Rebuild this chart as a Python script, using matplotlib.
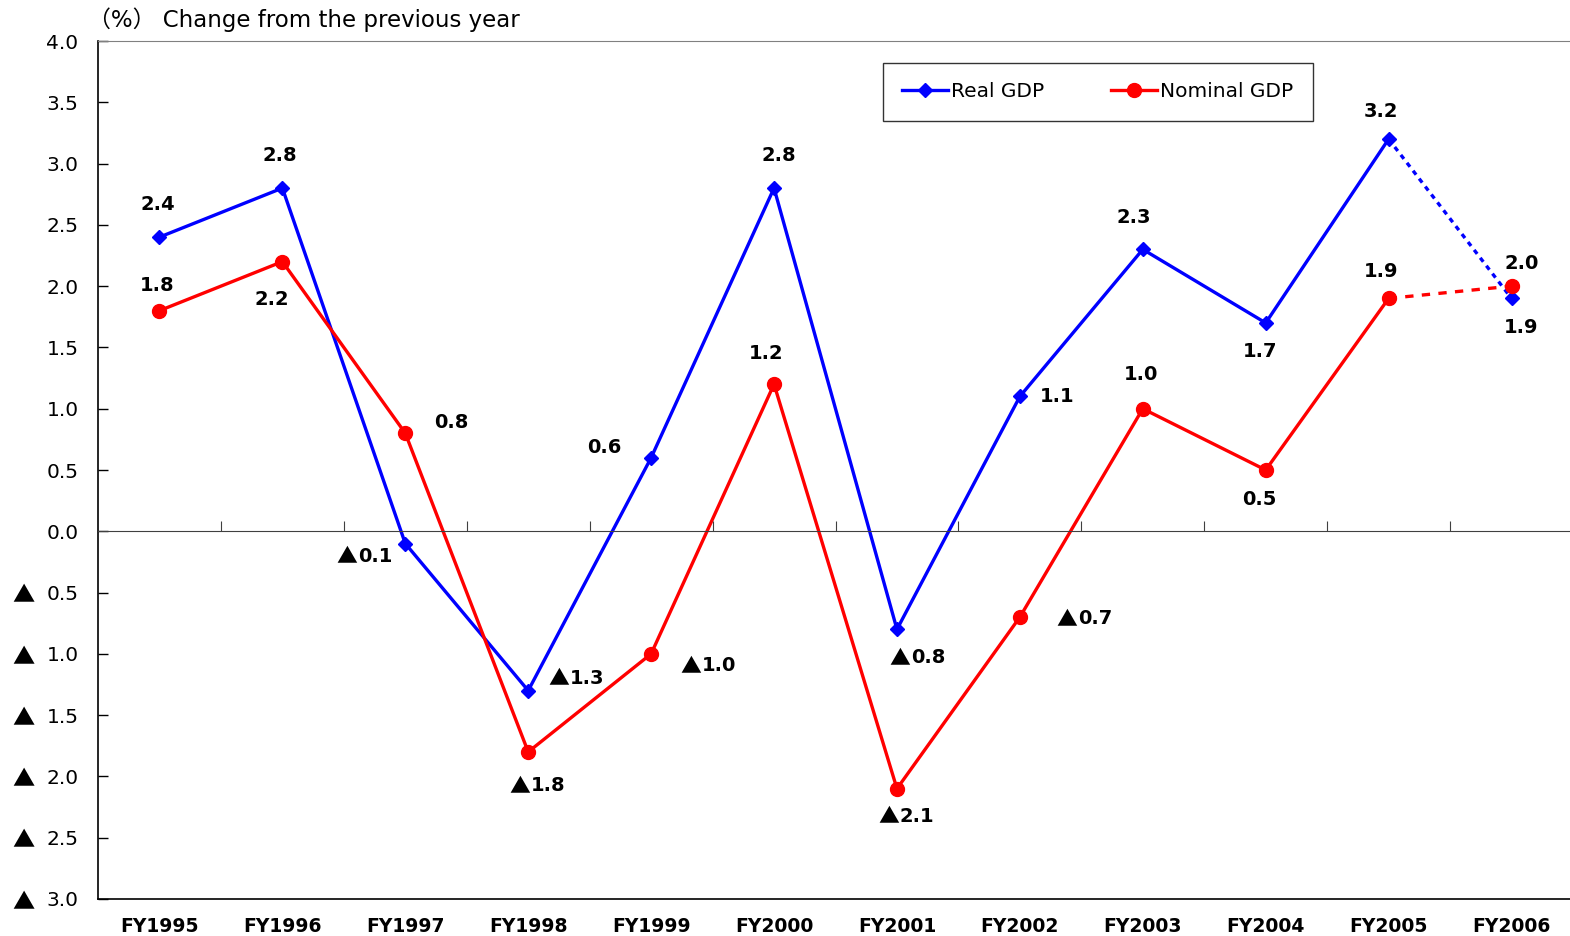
import numpy as np
import matplotlib
matplotlib.use("Agg")
import matplotlib.pyplot as plt
import matplotlib.transforms as mtransforms

plt.rcParams['font.family'] = ['DejaVu Sans', 'Noto Sans CJK JP']

years = ["FY1995", "FY1996", "FY1997", "FY1998", "FY1999", "FY2000",
         "FY2001", "FY2002", "FY2003", "FY2004", "FY2005", "FY2006"]
real_gdp = [2.4, 2.8, -0.1, -1.3, 0.6, 2.8, -0.8, 1.1, 2.3, 1.7, 3.2, 1.9]
nominal_gdp = [1.8, 2.2, 0.8, -1.8, -1.0, 1.2, -2.1, -0.7, 1.0, 0.5, 1.9, 2.0]

# label offsets in pixels (dx, dy) relative to each point
real_off = [(-2, 33), (-3, 33), (-43, -11), (46, 14), (-47, 10), (5, 33),
            (18, -27), (37, 0), (-9, 32), (-6, -29), (-8, 28), (10, -29)]
nom_off = [(-2, 25), (-11, -38), (46, 11), (7, -32), (55, -10), (-8, 31),
           (7, -26), (62, 0), (-2, 34), (-6, -29), (-8, 27), (10, 23)]

yticks = [4.0, 3.5, 3.0, 2.5, 2.0, 1.5, 1.0, 0.5, 0.0,
          -0.5, -1.0, -1.5, -2.0, -2.5, -3.0]

TRI_FONT = ['Noto Sans CJK JP', 'DejaVu Sans']


def put_label(ax, xi, v, dx, dy):
    if v >= 0:
        ax.annotate("%.1f" % v, (xi, v), xytext=(dx, dy), textcoords="offset pixels",
                    ha="center", va="center", fontsize=14, fontweight="bold")
    else:
        split = dx - 6
        base = dy - 7
        ax.annotate("▲", (xi, v), xytext=(split + 1, base - 1), textcoords="offset pixels",
                    ha="right", va="baseline", fontsize=15, family=TRI_FONT)
        ax.annotate("%.1f" % abs(v), (xi, v), xytext=(split + 2, base),
                    textcoords="offset pixels", ha="left", va="baseline",
                    fontsize=14, fontweight="bold")


fig = plt.figure(figsize=(15.7, 9.36), dpi=100)
ax = fig.add_axes([98 / 1570, 1 - 899 / 936, 1475 / 1570, 858 / 936])

x = np.arange(len(years))

ax.plot(x[:-1], real_gdp[:-1], color="#0000ff", lw=2.4, marker="D", ms=7.5,
        label="Real GDP", zorder=4)
ax.plot(x[-2:], real_gdp[-2:], color="#0000ff", lw=2.4, ls=(0, (1.5, 1.5)), zorder=3)
ax.plot(x[-1:], real_gdp[-1:], color="#0000ff", marker="D", ms=7.5, ls="none", zorder=4)

ax.plot(x[:-1], nominal_gdp[:-1], color="#ff0000", lw=2.4, marker="o", ms=10,
        label="Nominal GDP", zorder=4)
ax.plot(x[-2:], nominal_gdp[-2:], color="#ff0000", lw=2.4, ls=(0, (2.5, 2.5)), zorder=3)
ax.plot(x[-1:], nominal_gdp[-1:], color="#ff0000", marker="o", ms=10, ls="none", zorder=4)

for xi, v, (dx, dy) in zip(x, real_gdp, real_off):
    put_label(ax, xi, v, dx, dy)
for xi, v, (dx, dy) in zip(x, nominal_gdp, nom_off):
    put_label(ax, xi, v, dx, dy)

ax.set_xlim(-0.5, len(years) - 0.5)
ax.set_ylim(-3.0, 4.0)
ax.set_yticks(yticks)
ax.set_yticklabels(["%.1f" % abs(t) for t in yticks], fontsize=14.5)
ax.set_xticks(x)
ax.set_xticklabels(years, fontsize=13.5, fontweight="bold")
ax.tick_params(axis="x", length=0, pad=13)
ax.tick_params(axis="y", direction="in", length=7, pad=14, width=1)

# triangles marking negative tick values
trans = mtransforms.blended_transform_factory(ax.transAxes, ax.transData)
trans = trans + mtransforms.ScaledTranslation(0, -3.5 / 100, fig.dpi_scale_trans)
for t in yticks:
    if t < 0:
        ax.text(-0.0505, t, "▲", transform=trans, ha="center", va="center",
                fontsize=16, family=TRI_FONT)

ax.spines["right"].set_visible(False)
ax.spines["top"].set_color("#808080")
ax.spines["left"].set_linewidth(1.2)
ax.spines["bottom"].set_linewidth(1.2)

# zero line with category ticks
ax2 = ax.twiny()
ax2.set_xlim(ax.get_xlim())
ax2.spines["top"].set_visible(False)
ax2.spines["right"].set_visible(False)
ax2.spines["left"].set_visible(False)
ax2.spines["bottom"].set_position(("data", 0))
ax2.spines["bottom"].set_color("#404040")
ax2.xaxis.set_ticks_position("bottom")
ax2.set_xticks(np.arange(len(years) - 1) + 0.5)
ax2.set_xticklabels([])
ax2.tick_params(axis="x", direction="in", length=7, color="#404040")

leg = ax.legend(loc="upper left", bbox_to_anchor=(0.532, 0.974), ncol=2,
                fontsize=14.5, frameon=True, fancybox=False, edgecolor="black",
                borderpad=0.95, columnspacing=3.3, handlelength=2.3,
                handletextpad=0.15, borderaxespad=0)
leg.get_frame().set_linewidth(1.0)

fig.text(88 / 1570, 1 - 20 / 936, "（%） Change from the previous year",
         fontsize=16.5, va="center", ha="left")

fig.savefig("out.png", dpi=100)
